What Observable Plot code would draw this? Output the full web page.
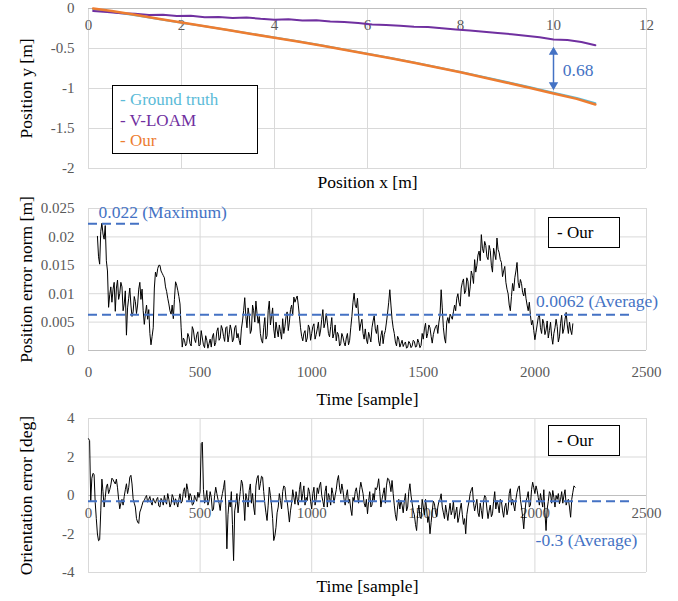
<!DOCTYPE html>
<html><head><meta charset="utf-8">
<script src="https://cdn.jsdelivr.net/npm/d3@7"></script>
<script src="https://cdn.jsdelivr.net/npm/@observablehq/plot@0.6"></script>
<style>
body{margin:0;background:#fff;}
#wrap{position:relative;width:678px;height:601px;overflow:hidden;font-family:"Liberation Serif","Times New Roman",serif;}
#wrap svg{display:block;font-family:"Liberation Serif","Times New Roman",serif;}
.legend{position:absolute;box-sizing:border-box;border:1.3px solid #000;background:#fff;font-size:17px;}
.legend div{white-space:nowrap;}
</style>
</head><body>
<div id="wrap">
  <div id="p1"></div>
  <div id="p2"></div>
  <div id="p3"></div>
  <div class="legend" style="left:112px;top:85px;width:146px;height:69px;padding:4px 0 0 7px;line-height:20.5px;">
    <div style="color:#5bbbd8">- Ground truth</div>
    <div style="color:#7030a0">- V-LOAM</div>
    <div style="color:#ed7d31">- Our</div>
  </div>
  <div class="legend" style="left:548px;top:217px;width:72px;height:31px;padding:4px 0 0 8px;line-height:21px;"><div>- Our</div></div>
  <div class="legend" style="left:548px;top:425px;width:72px;height:31px;padding:4px 0 0 8px;line-height:21px;"><div>- Our</div></div>
</div>
<script>
// ---------- Panel 1: trajectory ----------
const xTicks1 = [0, 2, 4, 6, 8, 10, 12];
const yTicks1 = [0, -0.5, -1, -1.5, -2];
const posX   = [0.1,0.5,1,1.5,2,2.5,3,3.5,4,4.5,5,5.5,6,6.5,7,7.5,8,8.5,9,9.5,10,10.5,10.9];
const gtY    = [-0.01,-0.04,-0.085,-0.13,-0.178,-0.222,-0.268,-0.315,-0.362,-0.41,-0.46,-0.512,-0.566,-0.62,-0.676,-0.735,-0.795,-0.857,-0.92,-0.985,-1.052,-1.118,-1.185];
const ourY   = [0.0,-0.03,-0.078,-0.127,-0.175,-0.222,-0.27,-0.318,-0.365,-0.413,-0.463,-0.515,-0.568,-0.622,-0.678,-0.738,-0.798,-0.862,-0.927,-0.993,-1.062,-1.13,-1.2];
const vlX    = [0.1,0.4,0.7,1.0,1.3,1.6,1.9,2.2,2.5,2.8,3.1,3.4,3.7,4.0,4.3,4.6,4.9,5.2,5.5,5.8,6.1,6.4,6.7,7.0,7.3,7.6,7.9,8.2,8.5,8.8,9.1,9.4,9.7,10.0,10.3,10.6,10.9];
const vloamY = [-0.03,-0.045,-0.06,-0.065,-0.08,-0.078,-0.095,-0.09,-0.108,-0.105,-0.118,-0.112,-0.128,-0.14,-0.135,-0.15,-0.148,-0.162,-0.17,-0.182,-0.2,-0.205,-0.215,-0.228,-0.232,-0.248,-0.262,-0.275,-0.29,-0.305,-0.322,-0.34,-0.36,-0.388,-0.395,-0.418,-0.46];
const gapX = 10, gapTop = -0.5, gapBottom = -1.0, gapLabel = "0.68";

// ---------- Panel 2: position error ----------
const xTicksT = [0, 500, 1000, 1500, 2000, 2500];
const yTicks2 = [0, 0.005, 0.01, 0.015, 0.02, 0.025];
const posErrStart = 40, sampleStep = 10;
// values at samples 40, 50, 60, ...
const posErr = [
0.0201,0.0152,0.0224,0.0196,0.0158,0.0076,0.0112,0.0108,0.0069,0.0124,
0.0100,0.0112,0.0082,0.0027,0.0092,0.0080,0.0068,0.0086,0.0080,0.0120,
0.0108,0.0046,0.0080,0.0072,0.0010,0.0040,0.0138,0.0144,0.0150,0.0136,
0.0128,0.0104,0.0082,0.0064,0.0056,0.0121,0.0106,0.0082,0.0006,0.0018,
0.0012,0.0024,0.0008,0.0036,0.0014,0.0033,0.0010,0.0022,0.0005,0.0018,
0.0012,0.0006,0.0030,0.0014,0.0040,0.0022,0.0038,0.0016,0.0042,0.0028,
0.0036,0.0020,0.0044,0.0030,0.0010,0.0052,0.0093,0.0040,0.0062,0.0036,
0.0070,0.0087,0.0048,0.0030,0.0013,0.0058,0.0026,0.0087,0.0060,0.0038,
0.0050,0.0024,0.0033,0.0056,0.0042,0.0068,0.0050,0.0080,0.0094,0.0091,
0.0080,0.0040,0.0017,0.0035,0.0022,0.0040,0.0030,0.0047,0.0028,0.0050,
0.0036,0.0072,0.0048,0.0050,0.0024,0.0058,0.0030,0.0017,0.0028,0.0012,
0.0024,0.0008,0.0030,0.0018,0.0060,0.0101,0.0075,0.0062,0.0047,0.0030,
0.0038,0.0012,0.0024,0.0040,0.0061,0.0030,0.0017,0.0026,0.0012,0.0035,
0.0066,0.0107,0.0055,0.0030,0.0008,0.0020,0.0012,0.0007,0.0015,0.0006,
0.0013,0.0008,0.0016,0.0007,0.0014,0.0009,0.0020,0.0048,0.0030,0.0040,
0.0013,0.0036,0.0045,0.0050,0.0107,0.0040,0.0013,0.0058,0.0064,0.0055,
0.0080,0.0092,0.0085,0.0110,0.0126,0.0105,0.0122,0.0112,0.0132,0.0160,
0.0150,0.0175,0.0204,0.0172,0.0185,0.0160,0.0176,0.0138,0.0170,0.0198,
0.0172,0.0155,0.0140,0.0120,0.0100,0.0070,0.0118,0.0128,0.0155,0.0110,
0.0118,0.0096,0.0092,0.0070,0.0062,0.0053,0.0019,0.0045,0.0064,0.0030,
0.0048,0.0036,0.0022,0.0050,0.0011,0.0040,0.0042,0.0024,0.0062,0.0038,
0.0067,0.0030,0.0036,0.0047];
// values at the in-between samples 45, 55, 65, ...
const posErrMid = [
0.0165,0.0210,0.0205,0.0220,0.0140,0.0098,0.0085,0.0120,0.0110,0.0090,
0.0120,0.0070,0.0105,0.0075,0.0110,0.0060,0.0095,0.0065,0.0108,0.0090,
0.0070,0.0065,0.0055,0.0030,0.0025,0.0110,0.0130,0.0150,0.0140,0.0132,
0.0112,0.0092,0.0070,0.0080,0.0090,0.0115,0.0095,0.0040,0.0022,0.0008,
0.0030,0.0012,0.0042,0.0020,0.0028,0.0008,0.0035,0.0010,0.0026,0.0004,
0.0020,0.0024,0.0008,0.0034,0.0018,0.0044,0.0025,0.0040,0.0015,0.0045,
0.0015,0.0040,0.0022,0.0018,0.0038,0.0070,0.0060,0.0075,0.0030,0.0080,
0.0050,0.0065,0.0060,0.0018,0.0040,0.0020,0.0070,0.0045,0.0075,0.0022,
0.0036,0.0045,0.0020,0.0030,0.0060,0.0035,0.0072,0.0062,0.0085,0.0096,
0.0060,0.0025,0.0030,0.0015,0.0045,0.0018,0.0042,0.0020,0.0038,0.0025,
0.0055,0.0040,0.0065,0.0030,0.0042,0.0022,0.0045,0.0032,0.0008,0.0030,
0.0014,0.0022,0.0010,0.0040,0.0085,0.0080,0.0092,0.0035,0.0055,0.0020,
0.0020,0.0032,0.0015,0.0052,0.0038,0.0045,0.0008,0.0035,0.0028,0.0050,
0.0085,0.0080,0.0040,0.0015,0.0025,0.0006,0.0018,0.0012,0.0004,0.0016,
0.0005,0.0018,0.0006,0.0020,0.0005,0.0030,0.0038,0.0022,0.0045,0.0025,
0.0028,0.0042,0.0030,0.0062,0.0075,0.0022,0.0050,0.0048,0.0060,0.0068,
0.0070,0.0100,0.0078,0.0120,0.0100,0.0128,0.0095,0.0140,0.0118,0.0138,
0.0168,0.0158,0.0180,0.0192,0.0165,0.0185,0.0150,0.0180,0.0160,0.0178,
0.0160,0.0130,0.0148,0.0108,0.0080,0.0095,0.0105,0.0140,0.0120,0.0125,
0.0102,0.0110,0.0080,0.0085,0.0045,0.0035,0.0032,0.0058,0.0040,0.0055,
0.0028,0.0052,0.0035,0.0025,0.0030,0.0055,0.0015,0.0048,0.0030,0.0055,
0.0045,0.0050,0.0028];
const maxErr = 0.0223, maxLabel = "0.022 (Maximum)", maxRuleEnd = 250;
const avgErr = 0.0063, avgLabel = "0.0062 (Average)", avgRuleEnd = 2440;

// ---------- Panel 3: orientation error ----------
const yTicks3 = [4, 2, 0, -2, -4];
const oriErrStart = 0;
// values at samples 0, 10, 20, ...
const oriErr = [
2.95,-0.30,1.15,-0.35,-2.00,-2.30,0.85,-0.60,0.45,0.10,
0.55,0.82,0.60,0.40,-0.69,-0.20,-0.05,0.61,0.40,1.05,
-0.17,-0.60,-1.38,-0.86,-0.50,-0.26,0.00,-0.20,-0.35,-0.15,
-0.40,-0.10,-0.60,-0.25,0.00,-0.45,-0.20,-0.43,-0.10,-0.17,
-0.60,0.09,-0.30,0.40,0.61,-0.26,-0.05,-0.45,-0.17,0.17,
0.20,2.77,-0.40,0.26,-0.30,-0.09,-0.70,0.43,-0.20,-0.78,
0.10,0.78,-2.77,-0.26,0.20,-3.38,-0.43,-0.90,0.20,0.61,
-1.30,-0.20,0.26,-0.40,-0.60,0.50,1.04,0.61,0.95,-0.40,
-1.30,0.43,-0.50,-2.34,-1.65,-0.60,-0.26,0.20,0.43,-0.30,
-1.38,-0.40,-0.09,0.20,-0.50,0.69,0.10,-0.50,-0.26,0.20,
-0.70,0.43,-0.20,0.10,0.69,-0.30,0.20,-0.60,-0.10,0.40,
-0.40,0.30,1.04,0.10,0.26,-0.50,0.30,-0.20,-1.04,-0.30,
0.40,-0.40,0.69,0.10,-0.60,-0.95,0.20,-0.50,-0.26,0.30,
0.87,-0.60,0.10,-0.40,0.90,0.60,0.78,-0.50,-1.30,-0.20,
-0.26,-0.90,0.10,-0.60,0.61,-0.40,-1.00,-1.82,-0.50,-1.20,
-0.60,-0.20,-1.40,-1.99,-0.80,-0.43,-1.10,-0.30,0.09,-0.90,
-0.50,-1.30,-0.40,-0.78,-1.20,-0.60,-1.13,-0.40,-1.50,-1.99,
-0.60,0.10,0.43,-0.80,-0.20,-1.10,-0.78,-0.30,-0.09,-1.20,
-0.50,-0.95,0.20,-0.26,-0.90,-0.30,-1.13,-0.40,-0.70,0.35,
-0.20,-0.80,0.17,0.50,-0.60,-1.73,-0.30,0.20,-0.50,0.69,
0.10,0.26,-0.50,-0.26,0.30,-1.82,-0.30,0.10,0.26,-0.60,
-0.20,-0.43,0.20,0.00,-0.50,-0.20,-1.13,0.17,0.43];
// values at the in-between samples 5, 15, 25, ...
const oriErrMid = [
2.85,0.90,1.10,-1.20,-2.35,-0.80,0.20,-0.10,0.60,0.30,
0.90,0.70,0.85,-0.20,-0.40,-0.50,0.30,0.10,0.95,0.60,
-0.40,-1.20,-1.45,-0.70,-0.30,-0.10,-0.35,-0.05,-0.50,-0.30,
-0.20,-0.55,-0.15,-0.50,-0.30,0.10,-0.60,0.05,-0.50,-0.35,
-0.20,-0.40,0.20,-0.10,0.30,0.10,-0.50,0.00,-0.30,-0.10,
2.70,0.30,-0.20,-0.50,0.20,-0.80,0.00,0.10,-0.40,-0.20,
0.40,-0.50,-1.00,-0.60,-1.50,-0.80,0.10,-0.30,0.80,-0.20,
0.10,-0.60,0.60,0.10,-1.00,0.90,0.30,1.00,0.20,-0.90,
-0.50,0.00,-1.20,-2.10,-0.90,0.10,-0.70,0.50,-0.20,-0.80,
-0.80,0.30,-0.45,-0.20,0.30,-0.30,0.50,-0.10,0.40,-0.30,
0.10,-0.50,0.40,0.50,0.00,-0.60,0.50,0.10,-0.50,0.10,
0.00,0.80,0.40,0.60,-0.20,0.00,-0.40,-0.70,-0.10,0.20,
0.00,0.30,0.40,-0.40,-0.20,-0.30,-0.60,0.10,0.40,0.50,
0.20,-0.20,0.40,0.50,0.85,0.20,0.10,-1.00,-0.60,-0.70,
-0.50,-0.30,-0.80,0.20,0.00,-0.80,-1.50,-0.90,-1.10,-0.20,
-1.00,-0.70,-1.10,-1.40,-0.30,-0.90,-0.60,-0.20,-0.60,-1.20,
-0.90,-0.80,-1.00,-0.30,-0.90,-1.40,-0.70,-1.00,-1.20,-1.00,
-0.30,0.30,-0.40,-0.50,-0.90,-0.40,-1.20,0.00,-0.70,-0.80,
-1.10,-0.30,-0.70,-0.50,-0.20,-0.80,-0.60,-1.00,0.10,-0.50,
-0.50,-0.20,0.40,-0.20,-1.10,-0.90,-0.10,-0.60,0.30,0.40,
0.50,-0.10,0.10,-0.60,-0.90,-0.70,0.20,-0.40,-0.10,0.00,
0.10,-0.20,-0.40,0.30,-0.30,-0.60,-0.20,0.50];
const oriAvg = -0.3, oriAvgLabel = "-0.3 (Average)", oriRuleEnd = 2440;

// ---------- styles ----------
const FONT = "Liberation Serif";
const GRID = "#d9d9d9", TICK = "#595959", BLUE = "#4472c4";
const W = 678, ML = 88, MR = 32;
const fmt = d => String(d);
const STYLE = "font-family:'Liberation Serif',serif;background:white;overflow:visible;";

function series(main, mid, start) {
  const out = [];
  main.forEach((v, i) => {
    out.push({t: start + i * sampleStep, v});
    if (i < mid.length) out.push({t: start + i * sampleStep + sampleStep / 2, v: mid[i]});
  });
  return out;
}
const traj = posX.map((x, i) => ({x, gt: gtY[i], our: ourY[i]}));
const vlTraj = vlX.map((x, i) => ({x, y: vloamY[i]}));
const errData = series(posErr, posErrMid, posErrStart);
const oriData = series(oriErr, oriErrMid, oriErrStart);

function yTitle(label) {
  return Plot.text([label], {frameAnchor: "left", textAnchor: "middle", lineAnchor: "middle", text: d => d, rotate: -90, dx: -62, fontSize: 17.5, fill: "#000", fontFamily: FONT});
}
function xTitle(label, dy) {
  return Plot.text([label], {frameAnchor: "bottom", text: d => d, dy, fontSize: 17.5, fill: "#000", fontFamily: FONT});
}
function yAxis(ticks) {
  return Plot.axisY(ticks, {tickSize: 0, tickPadding: 14, tickFormat: fmt, color: TICK, fontSize: 15, fontFamily: FONT, label: null});
}

const p1 = Plot.plot({
  width: W, height: 196, marginTop: 8, marginBottom: 28, marginLeft: ML, marginRight: MR,
  style: STYLE,
  x: {domain: [0, 12], axis: null},
  y: {domain: [-2, 0], axis: null},
  marks: [
    Plot.gridX(xTicks1, {stroke: GRID, strokeOpacity: 1}),
    Plot.gridY(yTicks1, {stroke: GRID, strokeOpacity: 1}),
    Plot.ruleY([0], {stroke: "#bfbfbf"}),
    yAxis(yTicks1),
    Plot.text(xTicks1, {x: d => d, y: () => 0, text: fmt, dy: 17, fill: TICK, fontSize: 15, fontFamily: FONT}),
    Plot.line(traj, {x: "x", y: "gt", stroke: "#5bbbd8", strokeWidth: 2}),
    Plot.line(vlTraj, {x: "x", y: "y", stroke: "#7030a0", strokeWidth: 2}),
    Plot.line(traj, {x: "x", y: "our", stroke: "#ed7d31", strokeWidth: 2.5}),
    Plot.ruleX([gapX], {y1: gapTop - 0.05, y2: gapBottom + 0.05, stroke: BLUE, strokeWidth: 1.5}),
    Plot.dot([gapX], {x: d => d, y: () => gapTop - 0.045, symbol: "triangle", r: 3.5, fill: BLUE, stroke: null}),
    Plot.dot([gapX], {x: d => d, y: () => gapBottom + 0.045, symbol: "triangle", r: 3.5, rotate: 180, fill: BLUE, stroke: null}),
    Plot.text([gapLabel], {x: () => gapX + 0.2, y: () => (gapTop + gapBottom) / 2 - 0.02, text: d => d, textAnchor: "start", fill: BLUE, fontSize: 17.5, fontFamily: FONT}),
    yTitle("Position y [m]"),
    xTitle("Position x [m]", 19)
  ]
});
document.getElementById("p1").append(p1);

const p2 = Plot.plot({
  width: W, height: 214, marginTop: 12, marginBottom: 60, marginLeft: ML, marginRight: MR,
  style: STYLE,
  x: {domain: [0, 2500], axis: null},
  y: {domain: [0, 0.025], axis: null},
  marks: [
    Plot.gridX(xTicksT, {stroke: GRID, strokeOpacity: 1}),
    Plot.gridY(yTicks2, {stroke: GRID, strokeOpacity: 1}),
    Plot.ruleY([0], {stroke: "#bfbfbf"}),
    yAxis(yTicks2),
    Plot.axisX(xTicksT, {tickSize: 0, tickPadding: 16, tickFormat: fmt, color: TICK, fontSize: 15, fontFamily: FONT, label: null}),
    Plot.line(errData, {x: "t", y: "v", stroke: "#000", strokeWidth: 1}),
    Plot.ruleY([maxErr], {x1: 0, x2: maxRuleEnd, stroke: BLUE, strokeWidth: 2, strokeDasharray: "9,5"}),
    Plot.ruleY([avgErr], {x1: 0, x2: avgRuleEnd, stroke: BLUE, strokeWidth: 2, strokeDasharray: "9,5"}),
    Plot.text([maxLabel], {x: () => 45, y: () => 0.0243, text: d => d, textAnchor: "start", fill: BLUE, fontSize: 17.5, fontFamily: FONT}),
    Plot.text([avgLabel], {x: () => 2005, y: () => 0.0086, text: d => d, textAnchor: "start", fill: BLUE, fontSize: 17.5, fontFamily: FONT}),
    yTitle("Position error norm [m]"),
    xTitle("Time [sample]", 54)
  ]
});
document.getElementById("p2").append(p2);

const p3 = Plot.plot({
  width: W, height: 191, marginTop: 8, marginBottom: 29, marginLeft: ML, marginRight: MR,
  style: STYLE,
  x: {domain: [0, 2500], axis: null},
  y: {domain: [-4, 4], axis: null},
  marks: [
    Plot.gridX(xTicksT, {stroke: GRID, strokeOpacity: 1}),
    Plot.gridY(yTicks3, {stroke: GRID, strokeOpacity: 1}),
    Plot.ruleY([0], {stroke: "#bfbfbf"}),
    yAxis(yTicks3),
    Plot.text(xTicksT, {x: d => d, y: () => 0, text: fmt, dy: 18, fill: TICK, fontSize: 15, fontFamily: FONT}),
    Plot.line(oriData, {x: "t", y: "v", stroke: "#000", strokeWidth: 1}),
    Plot.ruleY([oriAvg], {x1: 0, x2: oriRuleEnd, stroke: BLUE, strokeWidth: 2, strokeDasharray: "9,5"}),
    Plot.text([oriAvgLabel], {x: () => 2003, y: () => -2.34, text: d => d, textAnchor: "start", fill: BLUE, fontSize: 17.5, fontFamily: FONT}),
    yTitle("Orientation error [deg]"),
    xTitle("Time [sample]", 19)
  ]
});
document.getElementById("p3").append(p3);
</script>
</body></html>
